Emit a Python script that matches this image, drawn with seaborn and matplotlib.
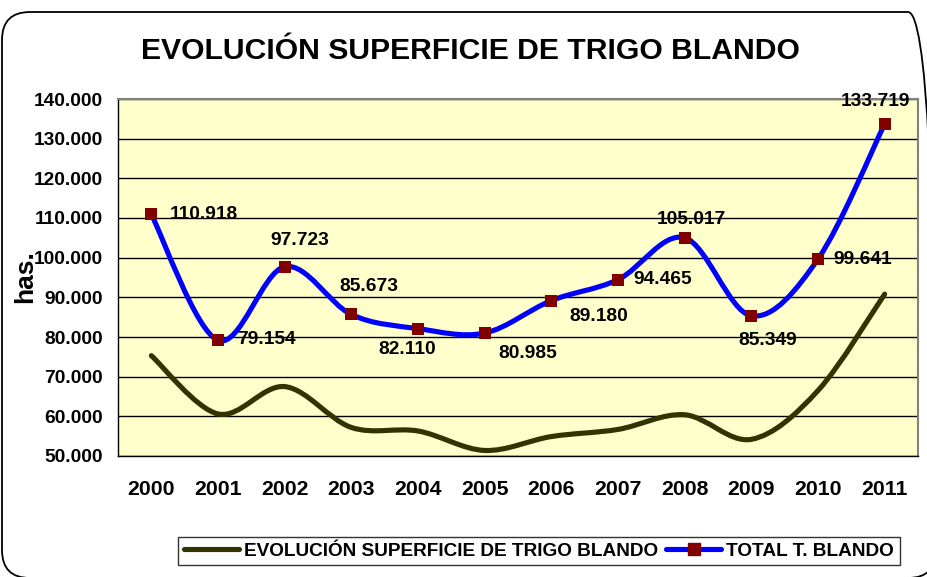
import numpy as np
import matplotlib
matplotlib.use("Agg")
import matplotlib.pyplot as plt
import seaborn as sns
from matplotlib import font_manager
from matplotlib.path import Path
from matplotlib.patches import PathPatch, FancyBboxPatch
from matplotlib.lines import Line2D
from matplotlib.transforms import Affine2D

# data (hectares, in thousands)
years = ["2000", "2001", "2002", "2003", "2004", "2005",
         "2006", "2007", "2008", "2009", "2010", "2011"]
total_blando = [110.918, 79.154, 97.723, 85.673, 82.110, 80.985,
                89.180, 94.465, 105.017, 85.349, 99.641, 133.719]
evolucion = [75.3, 60.6, 67.5, 57.2, 56.3, 51.4,
             54.9, 56.7, 60.4, 54.2, 66.5, 90.8]
total_labels = ["110.918", "79.154", "97.723", "85.673", "82.110", "80.985",
                "89.180", "94.465", "105.017", "85.349", "99.641", "133.719"]
y_ticks = [50, 60, 70, 80, 90, 100, 110, 120, 130, 140]

# where excel put each data label (offset of label centre from marker, pixels)
label_off = [(53, 0), (48, 1), (15, 26), (18, 28), (-11, -21), (43, -20),
             (47, -16), (45, 0), (7, 18), (16, -25), (45, 0), (-9, 22)]

W, H = 928, 577

sns.set_theme(style="white")
plt.rcParams["font.family"] = ["Liberation Sans", "DejaVu Sans"]
plt.rcParams["font.weight"] = "bold"
for k in ["text.color", "axes.labelcolor", "xtick.color", "ytick.color"]:
    plt.rcParams[k] = "black"

# legend text in excel looks like a narrow face
names = {f.name for f in font_manager.fontManager.ttflist}
if "Liberation Sans Narrow" in names:
    leg_family, leg_size = ["Liberation Sans Narrow", "Liberation Sans"], 16.5
else:
    leg_family, leg_size = ["Liberation Sans", "DejaVu Sans"], 13.7


def smooth_path(xs, ys):
    # excel-like smoothed line: cubic bezier segments (catmull-rom control points)
    pts = np.column_stack([xs, ys]).astype(float)
    verts = [pts[0]]
    codes = [Path.MOVETO]
    n = len(pts)
    for i in range(n - 1):
        p0 = pts[i - 1] if i > 0 else pts[i]
        p1 = pts[i]
        p2 = pts[i + 1]
        p3 = pts[i + 2] if i + 2 < n else pts[i + 1]
        c1 = p1 + (p2 - p0) / 6.0
        c2 = p2 - (p3 - p1) / 6.0
        verts += [c1, c2, p2]
        codes += [Path.CURVE4] * 3
    return Path(verts, codes)


fig = plt.figure(figsize=(W / 100, H / 100), dpi=100)
fig.patch.set_facecolor("white")

# rounded chart border in pixel units, runs just off the right and bottom edges
px = Affine2D().scale(1 / W, 1 / H) + fig.transFigure
border = FancyBboxPatch((2, H - 578), 934, 566,
                        boxstyle="round,pad=0,rounding_size=28",
                        transform=px, fill=False,
                        edgecolor="black", linewidth=1.3, zorder=0)
fig.patches.append(border)

ax = fig.add_axes([118 / W, 1 - 456 / H, 800 / W, 357 / H])
ax.set_facecolor("#FFFFCC")

x = np.arange(len(years))

ax.add_patch(PathPatch(smooth_path(x, evolucion), fill=False,
                       edgecolor="#333300", linewidth=3.7, zorder=3,
                       capstyle="round", joinstyle="round"))
ax.add_patch(PathPatch(smooth_path(x, total_blando), fill=False,
                       edgecolor="#0000FF", linewidth=3.7, zorder=4,
                       capstyle="round", joinstyle="round"))
sns.scatterplot(x=x, y=total_blando, marker="s", s=72, color="#800000",
                edgecolor="#800000", linewidth=0, zorder=5, ax=ax)

for xi, yi, lab, off in zip(x, total_blando, total_labels, label_off):
    ax.annotate(lab, (xi, yi), xytext=off, textcoords="offset pixels",
                ha="center", va="center", fontsize=13.8, fontweight="bold",
                zorder=6, annotation_clip=False)

ax.set_xlim(-0.5, len(years) - 0.5)
ax.set_ylim(50, 140)
ax.set_yticks(y_ticks)
ax.set_yticklabels([f"{v}.000" for v in y_ticks], fontsize=13.8, fontweight="bold")
ax.yaxis.grid(True, color="black", linewidth=1)
ax.set_axisbelow(True)

ax.set_xticks(np.arange(len(years) + 1) - 0.5)
ax.set_xticklabels([])
ax.set_xticks(x, minor=True)
ax.set_xticklabels(years, minor=True, fontsize=15.3, fontweight="bold")
ax.tick_params(axis="x", which="major", direction="out", length=5, color="black", width=1)
ax.tick_params(axis="x", which="minor", length=0, pad=17)
ax.tick_params(axis="y", direction="out", length=3.6, color="black", width=1, pad=7.2)

for side in ["left", "bottom"]:
    ax.spines[side].set_color("black")
    ax.spines[side].set_linewidth(1)
for side in ["top", "right"]:
    ax.spines[side].set_color("#808080")
    ax.spines[side].set_linewidth(1.5)

ax.set_ylabel("has.", fontsize=19, fontweight="bold")
ax.yaxis.set_label_coords((37 - 118) / 800, (456 - 277) / 357)

fig.text(470 / W, 1 - 51 / H, "EVOLUCIÓN SUPERFICIE DE TRIGO BLANDO",
         ha="center", va="center", fontsize=21.7, fontweight="bold")

handles = [
    Line2D([], [], color="#333300", linewidth=3.7),
    Line2D([], [], color="#0000FF", linewidth=3.7, marker="s",
           markersize=8.5, markerfacecolor="#800000", markeredgecolor="#800000"),
]
leg = fig.legend(handles, ["EVOLUCIÓN SUPERFICIE DE TRIGO BLANDO", "TOTAL T. BLANDO"],
                 loc="center", bbox_to_anchor=(539 / W, 1 - 551 / H),
                 ncol=2, frameon=True, fancybox=False,
                 handlelength=39.6 / leg_size, handletextpad=3.6 / leg_size,
                 columnspacing=5.8 / leg_size, borderpad=0.3, borderaxespad=0,
                 prop={"weight": "bold", "size": leg_size, "family": leg_family})
leg.get_frame().set_edgecolor("black")
leg.get_frame().set_linewidth(1)

fig.savefig("out.png", dpi=100)
